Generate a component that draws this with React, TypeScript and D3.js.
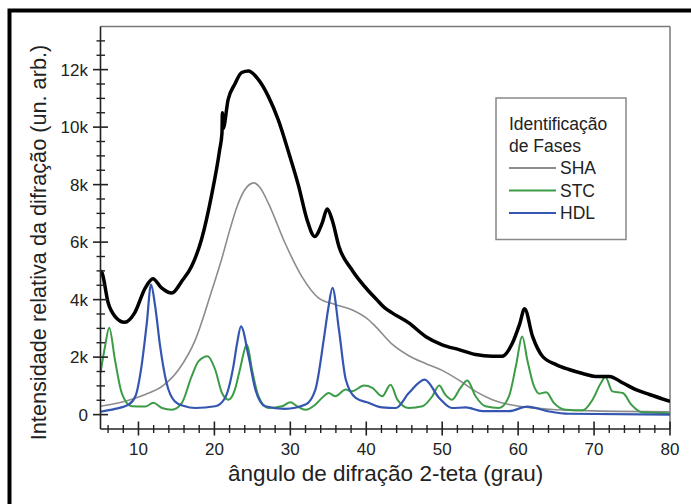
import React from 'react'
import * as d3 from 'd3'

// diffraction pattern (black)
const xrdAngle = [5, 5.2, 6, 6.9, 8.2, 9.5, 10.9, 11.9, 13, 14.4, 15.7, 17, 18.3, 19.6, 20.7, 21, 21.05, 21.15, 21.8, 22.7, 23.6, 24.5, 25.8, 27.1, 28.4, 29.8, 31.1, 32.2, 33.2, 34.2, 34.85, 35.5, 36.4, 38.1, 40.3, 41.3, 42.4, 43.4, 45.6, 47.8, 50, 52.2, 54.4, 56.6, 57.9, 59.25, 60.2, 60.85, 61.9, 63.2, 65, 66.7, 68.5, 70.2, 72, 73.8, 75.5, 77.3, 80]
const xrdCounts = [5000, 4930, 3900, 3420, 3210, 3540, 4410, 4730, 4420, 4230, 4640, 5160, 6090, 7590, 9220, 9800, 10500, 9950, 10950, 11500, 11900, 11950, 11650, 11070, 10260, 9100, 7940, 6780, 6200, 6670, 7150, 6780, 5850, 5040, 4300, 4020, 3720, 3540, 3190, 2720, 2430, 2260, 2090, 2030, 2030, 2490, 3150, 3680, 2720, 2030, 1740, 1570, 1430, 1330, 1330, 1100, 870, 700, 460]

// SHA phase (gray)
const shaAngle = [5, 8.7, 10.9, 13.1, 15.3, 17.5, 19.7, 21, 22, 23, 24, 25.2, 26, 27.1, 29.3, 31.5, 33.7, 35.9, 38.1, 40.3, 41.2, 43.4, 45.6, 47.8, 50, 52.2, 54.4, 56.6, 58.8, 61, 65, 70, 80]
const shaCounts = [290, 500, 700, 980, 1570, 2610, 4350, 5450, 6400, 7250, 7820, 8060, 7900, 7360, 5970, 4810, 4060, 3830, 3650, 3300, 3070, 2450, 2050, 1780, 1540, 1200, 810, 520, 350, 260, 170, 130, 100]

// STC phase (green)
const stcAngle = [5, 5.6, 6.15, 6.9, 7.8, 9.1, 10.9, 11.95, 13.1, 14.4, 15.7, 17, 17.9, 19.1, 20.1, 21, 21.85, 22.7, 23.3, 24.3, 24.95, 25.8, 27.1, 28.9, 30, 30.9, 32, 33.3, 34.4, 35.05, 35.9, 37.3, 38.1, 39.7, 40.8, 42.1, 43.2, 44.1, 45.6, 47.4, 48.7, 49.6, 50.4, 51.3, 52.4, 53.3, 54.4, 55.7, 57.5, 58.8, 59.7, 60.55, 61.2, 62.1, 62.8, 63.7, 64.7, 66.3, 68.5, 69.8, 70.9, 71.5, 72.4, 73.8, 74.9, 76.4, 80]
const stcCounts = [1450, 2380, 3020, 1910, 750, 290, 280, 410, 230, 170, 400, 1330, 1850, 2030, 1570, 750, 520, 870, 1500, 2430, 1570, 640, 230, 290, 430, 290, 170, 350, 640, 750, 640, 870, 810, 1010, 930, 640, 1040, 520, 230, 290, 640, 1010, 700, 520, 930, 1190, 640, 290, 230, 640, 1680, 2720, 1910, 980, 730, 780, 410, 170, 150, 520, 1100, 1310, 810, 750, 350, 80, 50]

// HDL phase (blue)
const hdlAngle = [5, 6.9, 8.7, 9.6, 10.4, 11.1, 11.65, 12.2, 12.85, 13.7, 14.8, 16, 17.5, 20.1, 21.4, 22.5, 23, 23.5, 24.5, 25.4, 26.7, 29.3, 32, 33.3, 34.4, 35, 35.55, 36.4, 37.3, 38.6, 40.3, 42.1, 43.9, 45.6, 47.7, 49.6, 51.3, 53.1, 55.3, 58.8, 61.2, 64.1, 66.7, 80]
const hdlCounts = [100, 200, 350, 640, 1680, 3190, 4520, 3770, 2380, 1100, 460, 300, 230, 290, 580, 1680, 2500, 3070, 2030, 870, 290, 200, 350, 870, 2610, 3700, 4410, 2960, 1220, 580, 410, 250, 230, 750, 1220, 580, 230, 250, 120, 120, 280, 110, 30, 0]

const xTickValues = [10, 20, 30, 40, 50, 60, 70, 80]
const yTickValues = [0, 2000, 4000, 6000, 8000, 10000, 12000]
const yTickLabels = ['0', '2k', '4k', '6k', '8k', '10k', '12k']
const legendTitle = ['Identificação', 'de Fases']
const legendNames = ['SHA', 'STC', 'HDL']
const legendColors = ['#8c8c8c', '#3c9c46', '#3456b0']

const font = 'Liberation Sans, Arial, sans-serif'

const App = () => {
  const x = d3.scaleLinear().domain([5, 80]).range([100.5, 670])
  const y = d3.scaleLinear().domain([-500, 13500]).range([429, 26.5])

  const line = d3.line<[number, number]>()
    .x(d => x(d[0]))
    .y(d => y(d[1]))
    .curve(d3.curveMonotoneX)

  const zip = (a: number[], b: number[]) => a.map((v, i) => [v, b[i]] as [number, number])

  const xMinor = d3.range(6, 80, 2).filter(v => v % 10 !== 0)
  const yMinor = d3.range(0, 13500, 500).filter(v => v % 2000 !== 0)

  const series = [
    { pts: zip(shaAngle, shaCounts), color: legendColors[0], w: 1.6 },
    { pts: zip(stcAngle, stcCounts), color: legendColors[1], w: 2 },
    { pts: zip(hdlAngle, hdlCounts), color: legendColors[2], w: 2.2 },
  ]

  return (
    <svg width={691} height={504} style={{ position: 'absolute', left: 0, top: 0, background: '#fff' }} fontFamily={font}>
      <rect x={9.5} y={10.5} width={720} height={560} fill="none" stroke="#000" strokeWidth={4} />
      <defs>
        <clipPath id="plot">
          <rect x={100.5} y={26.5} width={569.5} height={402.5} />
        </clipPath>
      </defs>

      {/* frame */}
      <line x1={100.5} x2={670} y1={26.5} y2={26.5} stroke="#777" strokeWidth={1.5} />
      <line x1={670} x2={670} y1={26.5} y2={429} stroke="#777" strokeWidth={1.5} />

      <g clipPath="url(#plot)" fill="none">
        {series.map((s, i) => (
          <path key={i} d={line(s.pts) || ''} stroke={s.color} strokeWidth={s.w} />
        ))}
        <path d={line(zip(xrdAngle, xrdCounts)) || ''} stroke="#000" strokeWidth={3.5} strokeLinejoin="round" />
      </g>

      {/* y axis */}
      <line x1={100.5} x2={100.5} y1={26.5} y2={429} stroke="#222" strokeWidth={1.6} />
      {yMinor.map(v => (
        <line key={'ym' + v} x1={96.5} x2={105} y1={y(v)} y2={y(v)} stroke="#222" strokeWidth={1.4} />
      ))}
      {yTickValues.map((v, i) => (
        <g key={'y' + v}>
          <line x1={93} x2={108} y1={y(v)} y2={y(v)} stroke="#222" strokeWidth={1.6} />
          <text x={88} y={y(v)} dy="0.36em" textAnchor="end" fontSize={17} fill="#222">{yTickLabels[i]}</text>
        </g>
      ))}

      {/* x axis */}
      <line x1={100.5} x2={670} y1={429} y2={429} stroke="#222" strokeWidth={1.6} />
      {xMinor.map(v => (
        <line key={'xm' + v} x1={x(v)} x2={x(v)} y1={425} y2={433} stroke="#222" strokeWidth={1.4} />
      ))}
      {xTickValues.map(v => (
        <g key={'x' + v}>
          <line x1={x(v)} x2={x(v)} y1={421.5} y2={435.5} stroke="#222" strokeWidth={1.6} />
          <text x={x(v)} y={455} textAnchor="middle" fontSize={17} fill="#222">{v}</text>
        </g>
      ))}

      <text x={385.6} y={481} textAnchor="middle" fontSize={22.5} fill="#222">ângulo de difração 2-teta (grau)</text>
      <text transform="translate(46,242.5) rotate(-90)" textAnchor="middle" fontSize={21.7} fill="#222">Intensidade relativa da difração (un. arb.)</text>

      {/* legend */}
      <rect x={496} y={98} width={130} height={141.5} fill="#fff" stroke="#888" strokeWidth={1.5} />
      {legendTitle.map((t, i) => (
        <text key={t} x={509} y={129.5 + i * 22} fontSize={17.5} fill="#222">{t}</text>
      ))}
      {legendNames.map((n, i) => (
        <g key={n}>
          <line x1={509} x2={556} y1={168 + i * 22.5} y2={168 + i * 22.5} stroke={legendColors[i]} strokeWidth={2.2} />
          <text x={560} y={168 + i * 22.5} dy="0.36em" fontSize={17.5} fill="#222">{n}</text>
        </g>
      ))}
    </svg>
  )
}

export default App
